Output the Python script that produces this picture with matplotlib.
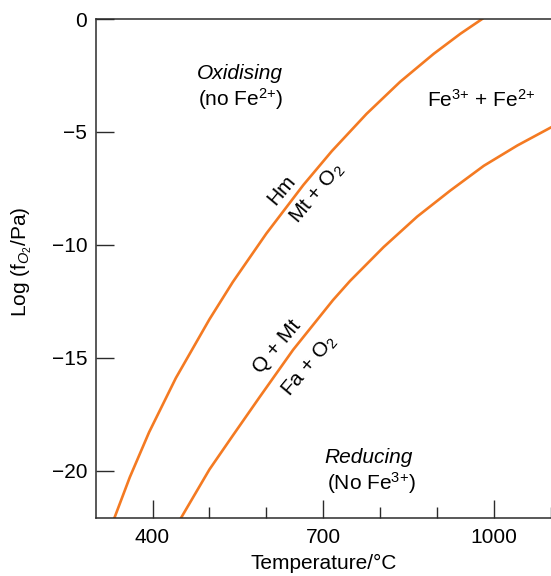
import matplotlib
matplotlib.use('Agg')
import matplotlib.pyplot as plt
from matplotlib.ticker import FixedLocator

plt.rcParams['font.family'] = ['Liberation Sans', 'DejaVu Sans']
plt.rcParams['mathtext.fontset'] = 'custom'
plt.rcParams['mathtext.rm'] = 'Liberation Sans'
plt.rcParams['mathtext.it'] = 'Liberation Sans:italic'
plt.rcParams['font.size'] = 15

# Hm / Mt + O2 buffer
hm_temp = [330, 360, 394, 441, 500, 541, 600, 665, 715, 776, 835, 894, 941, 979]
hm_logf = [-22.3, -20.3, -18.3, -15.9, -13.3, -11.65, -9.5, -7.35, -5.85, -4.2, -2.78, -1.54, -0.65, 0.0]

# Q + Mt / Fa + O2 buffer
qfm_temp = [450, 500, 541, 588, 647, 717, 747, 806, 865, 923, 982, 1041, 1100]
qfm_logf = [-22.1, -19.95, -18.45, -16.75, -14.65, -12.45, -11.6, -10.1, -8.75, -7.6, -6.5, -5.6, -4.8]

major_x = [400, 700, 1000]
minor_x = [500, 600, 800, 900, 1100]
major_y = [0, -5, -10, -15, -20]

orange = '#f47a22'
axcol = '#2b2b2b'

fig = plt.figure(figsize=(5.51, 5.76), dpi=100)
ax = fig.add_axes([0.1735, 0.1007, 0.8265, 0.8663])

ax.plot(hm_temp, hm_logf, color=orange, lw=1.9, solid_joinstyle='round')
ax.plot(qfm_temp, qfm_logf, color=orange, lw=1.9, solid_joinstyle='round')

ax.set_xlim(300, 1100)
ax.set_ylim(-22.1, 0)

ax.xaxis.set_major_locator(FixedLocator(major_x))
ax.xaxis.set_minor_locator(FixedLocator(minor_x))
ax.yaxis.set_major_locator(FixedLocator(major_y))

ax.tick_params(axis='both', which='major', direction='in', length=13, width=1.0,
               color=axcol, labelsize=15, labelcolor='black')
ax.tick_params(axis='x', which='major', pad=7)
ax.tick_params(axis='y', which='major', pad=6)
ax.tick_params(axis='x', which='minor', direction='in', length=8, width=1.0, color=axcol)

for side in ['left', 'top', 'bottom']:
    ax.spines[side].set_color(axcol)
    ax.spines[side].set_linewidth(1.1)
ax.spines['right'].set_visible(False)

# region labels
ax.text(553, -2.4, 'Oxidising', style='italic', ha='center', va='center')
ax.text(555, -3.55, '(no Fe$^{2{+}}$)', ha='center', va='center')
ax.text(978, -3.6, 'Fe$^{3{+}}$ + Fe$^{2{+}}$', ha='center', va='center')
ax.text(780, -19.4, 'Reducing', style='italic', ha='center', va='center')
ax.text(784, -20.55, '(No Fe$^{3{+}}$)', ha='center', va='center')

# buffer labels along the curves
ax.text(626, -7.55, 'Hm', rotation=50, ha='center', va='center', rotation_mode='anchor')
ax.text(690, -7.7, 'Mt + O$_2$', rotation=50, ha='center', va='center', rotation_mode='anchor')
ax.text(618, -14.5, 'Q + Mt', rotation=50, ha='center', va='center', rotation_mode='anchor')
ax.text(676, -15.35, 'Fa + O$_2$', rotation=50, ha='center', va='center', rotation_mode='anchor')

fig.text(22 / 551, 1 - 262 / 576, 'Log (f$_{O_2}$/Pa)', rotation=90, ha='center', va='center')
fig.text(324 / 551, 1 - 563 / 576, 'Temperature/°C', ha='center', va='center')

fig.savefig('out.png', dpi=100)
